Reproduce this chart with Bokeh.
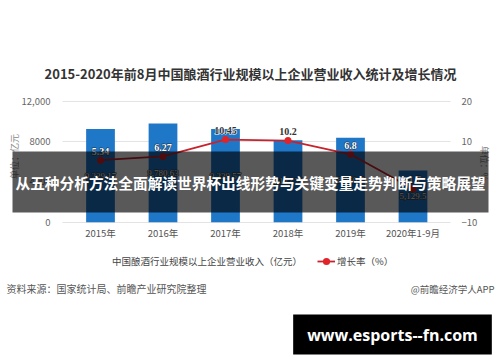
import math
from bokeh.plotting import figure
from bokeh.models import (Range1d, LinearAxis, FixedTicker, Label, Legend, LegendItem,
                          ColumnDataSource)
from bokeh.embed import file_html
from bokeh.resources import INLINE

# ---------------- data ----------------
years = ["2015年", "2016年", "2017年", "2018年", "2019年", "2020年1-9月"]
revenue = [9229.17, 9780.63, 9239.57, 8122.74, 8350.7, 5129.5]
revenue_labels = ["9,229.17", "9,780.63", "9,239.57", "8,122.74", "8,350.7", "5,129.5"]
growth = [5.34, 6.27, 10.45, 10.2, 6.8, -1.7]
growth_labels = ["5.34", "6.27", "10.45", "10.2", "6.8", "-1.7"]
left_ticks = [0, 4000, 8000, 12000]
left_tick_labels = ["0", "4000", "8000", "12,000"]
right_ticks = [-10, 0, 10, 20]

title_text = "2015-2020年前8月中国酿酒行业规模以上企业营业收入统计及增长情况"
banner_text = "从五种分析方法全面解读世界杯出线形势与关键变量走势判断与策略展望"
legend_bar = "中国酿酒行业规模以上企业营业收入（亿元）"
legend_line = "增长率（%）"
left_unit = "单位：亿元"
right_unit = "单位：%"
source_text = "资料来源：国家统计局、前瞻产业研究院整理"
brand_text = "@前瞻经济学人APP"
site_text = "www.esports--fn.com"

FONT = "Noto Sans CJK SC"
W, H = 500, 362

# layout (pixels from the top-left of the picture); the frame covers the whole canvas
PLOT_L, PLOT_R = 62.0, 450.0          # visible plot area
X0_PX, DX_PX = 100.0, 62.5            # first category centre, category spacing
Y0_PX, YT_PX = 221.7, 100.5           # pixel rows of the 0 line and the top tick

BAR = "#1f77c8"
RED = "#c8232c"

x_start = -X0_PX / DX_PX
x_end = (W - X0_PX) / DX_PX
lpp = 12000 / (Y0_PX - YT_PX)          # left units per pixel
rpp = 30 / (Y0_PX - YT_PX)             # right units per pixel

p = figure(width=W, height=H, output_backend="svg", toolbar_location=None,
           x_range=Range1d(x_start, x_end),
           y_range=Range1d(-(H - Y0_PX) * lpp, 12000 + YT_PX * lpp),
           min_border=0, min_border_left=0, min_border_right=0,
           min_border_top=0, min_border_bottom=0,
           background_fill_color="white", border_fill_color="white",
           outline_line_color=None)
p.extra_y_ranges = {"g": Range1d(-10 - (H - Y0_PX) * rpp, 20 + YT_PX * rpp)}

# grid
p.xgrid.grid_line_color = None
p.ygrid.grid_line_color = "#e3e3e3"
p.ygrid.ticker = FixedTicker(ticks=left_ticks)
p.ygrid.cross_bounds = ((PLOT_L - X0_PX) / DX_PX, (PLOT_R - X0_PX) / DX_PX)

# x axis (labels pulled up under the 0 line)
xa = p.xaxis[0]
xa.ticker = FixedTicker(ticks=list(range(len(years))))
xa.major_label_overrides = {i: y for i, y in enumerate(years)}
xa.axis_line_color = None
xa.major_tick_line_color = None
xa.minor_tick_line_color = None
xa.major_label_text_font = FONT
xa.major_label_text_font_size = "9.5px"
xa.major_label_text_color = "#555555"
xa.major_label_standoff = -143

# left axis
ya = p.yaxis[0]
ya.ticker = FixedTicker(ticks=left_ticks)
ya.major_label_overrides = {t: l for t, l in zip(left_ticks, left_tick_labels)}
ya.axis_line_color = None
ya.major_tick_line_color = None
ya.minor_tick_line_color = None
ya.major_label_text_font = FONT
ya.major_label_text_font_size = "9.5px"
ya.major_label_text_color = "#666666"
ya.major_label_standoff = -56

# right axis
ra = LinearAxis(y_range_name="g", ticker=FixedTicker(ticks=right_ticks))
ra.axis_line_color = None
ra.major_tick_line_color = None
ra.minor_tick_line_color = None
ra.major_label_text_font = FONT
ra.major_label_text_font_size = "9.5px"
ra.major_label_text_color = "#666666"
ra.major_label_standoff = -45
p.add_layout(ra, "right")

src = ColumnDataSource(dict(
    x=list(range(len(years))),
    rev=revenue,
    rev_mid=[v / 2 for v in revenue],
    rev_lbl=revenue_labels,
    g=growth,
    g_lbl=growth_labels,
    g_col=["white", "white", "#333333", "#333333", "white", "white"],
    g_out=["#1b3550", "#1b3550", "white", "white", "#1b3550", "#1b3550"],
))

bars = p.vbar(x="x", top="rev", width=0.46, source=src, fill_color=BAR, line_color=None)
p.text(x="x", y="rev_mid", text="rev_lbl", source=src, text_align="center",
       text_baseline="middle", text_font=FONT, text_font_size="9px",
       text_color="#333333", text_outline_color="#333333")
p.text(x="x", y="rev_mid", text="rev_lbl", source=src, text_align="center",
       text_baseline="middle", text_font=FONT, text_font_size="9px",
       text_color="white")

gline = p.line(x="x", y="g", source=src, y_range_name="g", line_color=RED, line_width=1.8)
gpts = p.scatter(x="x", y="g", source=src, y_range_name="g", size=7,
                 fill_color="#e0242a", line_color=None)
p.text(x="x", y="g", text="g_lbl", source=src, y_range_name="g", y_offset=-9,
       text_align="center", text_baseline="middle", text_font=FONT,
       text_font_size="10px", text_font_style="bold",
       text_color="g_out", text_outline_color="g_out")
p.text(x="x", y="g", text="g_lbl", source=src, y_range_name="g", y_offset=-9,
       text_align="center", text_baseline="middle", text_font=FONT,
       text_font_size="10px", text_font_style="bold", text_color="g_col")

# legend (dummy circle for the bar series, like the original chart)
dummy = p.scatter(x=[], y=[], size=9, fill_color=BAR, line_color=None)
legend = Legend(items=[LegendItem(label=legend_bar, renderers=[dummy]),
                       LegendItem(label=legend_line, renderers=[gline, gpts])],
                orientation="horizontal", location=(92, H - 270),
                padding=0, margin=0, spacing=15, glyph_width=18, glyph_height=18,
                label_height=18, label_standoff=2, border_line_color=None,
                background_fill_alpha=0, label_text_font=FONT,
                label_text_font_size="9.5px", label_text_color="#444444")
p.add_layout(legend, "center")


def lab(text, cx, cy, **kw):
    opts = dict(x=cx, y=H - cy, x_units="screen", y_units="screen", text=text,
                text_align="center", text_baseline="middle", text_font=FONT)
    opts.update(kw)
    p.add_layout(Label(**opts))


lab(title_text, 250, 73, text_font_size="13px", text_font_style="bold", text_color="#333333")
lab(left_unit, 14, 156, angle=math.pi / 2, text_font_size="9px", text_color="#888888")
lab(right_unit, 483.5, 163, angle=-math.pi / 2, text_font_size="9px", text_color="#888888")
lab(source_text, 6, 288, text_align="left", text_font_size="10px", text_color="#555555")
lab(brand_text, 494, 288, text_align="right", text_font_size="9.5px", text_color="#555555")
lab(banner_text, 250, 181.5, text_font_size="14.7px", text_font_style="bold", text_color="white",
    background_fill_color="black", background_fill_alpha=0.65, padding=(3, 20), level="overlay")
lab(site_text, 392, 334, text_font="Open Sans", text_font_size="16px", text_font_style="bold",
    text_color="white", background_fill_color="black", background_fill_alpha=1.0,
    padding=(14, 9), level="overlay")

open("out.html", "w").write(file_html(p, INLINE))
